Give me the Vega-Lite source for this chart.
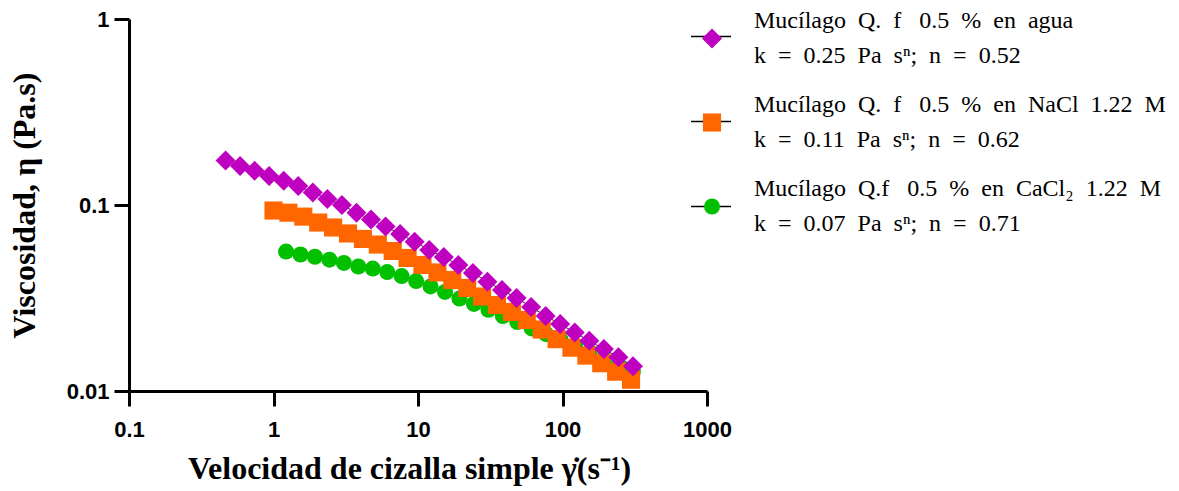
{
  "$schema": "https://vega.github.io/schema/vega-lite/v6.json",
  "autosize": {"type": "none"},
  "padding": {"left": 129, "top": 19, "right": 472, "bottom": 100},
  "width": 578,
  "height": 372,
  "background": "white",
  "config": {
    "view": {"stroke": null},
    "axis": {
      "grid": false,
      "domainColor": "black",
      "domainWidth": 3,
      "tickColor": "black",
      "tickWidth": 3,
      "tickSize": 15,
      "labelFont": "Liberation Sans",
      "labelFontWeight": "bold",
      "labelFontSize": 22,
      "labelColor": "black",
      "titleFont": "Liberation Serif",
      "titleFontWeight": "bold",
      "titleFontSize": 32,
      "titleColor": "black"
    }
  },
  "data": {
    "values": [
      {"series": "c", "x": 1.222, "y": 0.0562}, {"series": "c", "x": 1.538, "y": 0.0542}, {"series": "c", "x": 1.936, "y": 0.0527}, {"series": "c", "x": 2.438, "y": 0.0508}, {"series": "c", "x": 3.069, "y": 0.0488},
      {"series": "c", "x": 3.864, "y": 0.0467}, {"series": "c", "x": 4.864, "y": 0.0455}, {"series": "c", "x": 6.124, "y": 0.0436}, {"series": "c", "x": 7.709, "y": 0.0415}, {"series": "c", "x": 9.705, "y": 0.0390},
      {"series": "c", "x": 12.22, "y": 0.0365}, {"series": "c", "x": 15.38, "y": 0.0341}, {"series": "c", "x": 19.36, "y": 0.0314}, {"series": "c", "x": 24.38, "y": 0.0294}, {"series": "c", "x": 30.69, "y": 0.0273},
      {"series": "c", "x": 38.64, "y": 0.0253}, {"series": "c", "x": 48.64, "y": 0.0235}, {"series": "c", "x": 61.24, "y": 0.0217}, {"series": "c", "x": 77.09, "y": 0.0202}, {"series": "c", "x": 97.05, "y": 0.0188},
      {"series": "c", "x": 122.2, "y": 0.0175}, {"series": "c", "x": 153.8, "y": 0.0162}, {"series": "c", "x": 193.6, "y": 0.0149}, {"series": "c", "x": 243.8, "y": 0.0137}, {"series": "c", "x": 306.9, "y": 0.0127},
      {"series": "b", "x": 1.000, "y": 0.0934}, {"series": "b", "x": 1.268, "y": 0.0909}, {"series": "b", "x": 1.608, "y": 0.0866}, {"series": "b", "x": 2.039, "y": 0.0805}, {"series": "b", "x": 2.585, "y": 0.0757},
      {"series": "b", "x": 3.278, "y": 0.0703}, {"series": "b", "x": 4.156, "y": 0.0657}, {"series": "b", "x": 5.270, "y": 0.0613}, {"series": "b", "x": 6.682, "y": 0.0566}, {"series": "b", "x": 8.473, "y": 0.0519},
      {"series": "b", "x": 10.74, "y": 0.0476}, {"series": "b", "x": 13.62, "y": 0.0434}, {"series": "b", "x": 17.27, "y": 0.0395}, {"series": "b", "x": 21.90, "y": 0.0358}, {"series": "b", "x": 27.77, "y": 0.0322},
      {"series": "b", "x": 35.21, "y": 0.0290}, {"series": "b", "x": 44.64, "y": 0.0266}, {"series": "b", "x": 56.60, "y": 0.0241}, {"series": "b", "x": 71.77, "y": 0.0214}, {"series": "b", "x": 91.0, "y": 0.0190},
      {"series": "b", "x": 115.3, "y": 0.0171}, {"series": "b", "x": 146.3, "y": 0.0155}, {"series": "b", "x": 185.4, "y": 0.0141}, {"series": "b", "x": 235.1, "y": 0.0127}, {"series": "b", "x": 298.1, "y": 0.0115},
      {"series": "a", "x": 0.466, "y": 0.1734}, {"series": "a", "x": 0.587, "y": 0.1621}, {"series": "a", "x": 0.740, "y": 0.1529}, {"series": "a", "x": 0.933, "y": 0.1432}, {"series": "a", "x": 1.177, "y": 0.1351},
      {"series": "a", "x": 1.484, "y": 0.1265}, {"series": "a", "x": 1.871, "y": 0.1167}, {"series": "a", "x": 2.360, "y": 0.1077}, {"series": "a", "x": 2.976, "y": 0.1000}, {"series": "a", "x": 3.752, "y": 0.0909},
      {"series": "a", "x": 4.731, "y": 0.0836}, {"series": "a", "x": 5.966, "y": 0.0766}, {"series": "a", "x": 7.52, "y": 0.0698}, {"series": "a", "x": 9.48, "y": 0.0635}, {"series": "a", "x": 11.96, "y": 0.0573},
      {"series": "a", "x": 15.09, "y": 0.0525}, {"series": "a", "x": 19.02, "y": 0.0476}, {"series": "a", "x": 23.99, "y": 0.0431}, {"series": "a", "x": 30.25, "y": 0.0387}, {"series": "a", "x": 38.14, "y": 0.0349},
      {"series": "a", "x": 48.09, "y": 0.0316}, {"series": "a", "x": 60.64, "y": 0.0283}, {"series": "a", "x": 76.47, "y": 0.0253}, {"series": "a", "x": 96.4, "y": 0.0229}, {"series": "a", "x": 121.6, "y": 0.0206},
      {"series": "a", "x": 153.3, "y": 0.0186}, {"series": "a", "x": 193.3, "y": 0.0168}, {"series": "a", "x": 243.8, "y": 0.0152}, {"series": "a", "x": 307.4, "y": 0.0136}
    ]
  },
  "encoding": {
    "x": {
      "field": "x", "type": "quantitative",
      "scale": {"type": "log", "domain": [0.1, 1000], "nice": false},
      "axis": {"values": [0.1, 1, 10, 100, 1000], "format": "~g", "labelPadding": 13, "title": "Velocidad de cizalla simple γ̇(s⁻¹)", "titlePadding": 13, "titleX": 280, "labelFlush": false}
    },
    "y": {
      "field": "y", "type": "quantitative",
      "scale": {"type": "log", "domain": [0.01, 1], "nice": false},
      "axis": {"values": [0.01, 0.1, 1], "format": "~g", "labelPadding": 5, "title": "Viscosidad, η (Pa.s)", "titlePadding": 25, "labelFlush": false}
    }
  },
  "layer": [
    {
      "mark": {"type": "line", "color": "black", "strokeWidth": 1},
      "encoding": {
        "strokeDash": {
          "field": "series", "type": "nominal",
          "scale": {"range": [[1, 0], [1, 0], [1, 0]]},
          "legend": {
            "orient": "none", "legendX": 561, "legendY": -3.5, "title": null, "padding": 0, "zindex": 0,
            "symbolType": "stroke", "symbolSize": 1600, "symbolStrokeWidth": 1.5, "symbolStrokeColor": "black", "symbolDash": [1, 0],
            "labelFont": "Liberation Serif", "labelFontSize": 24, "labelLimit": 600, "labelOpacity": 0, "labelOffset": 20, "rowPadding": 25,
            "labelExpr": "[' ', ' ']",
            "encode": {"labels": {"update": {"lineHeight": {"value": 35}, "dy": {"value": -17.5}}}}
          }
        }
      }
    },
    {
      "mark": {"type": "point", "filled": true, "opacity": 1, "strokeWidth": 0},
      "encoding": {
        "color": {
          "field": "series", "type": "nominal",
          "scale": {"domain": ["a", "b", "c"], "range": ["#C000C0", "#FF6600", "#00C000"]},
          "legend": {
            "orient": "none", "legendX": 571, "legendY": 7.5, "title": null, "padding": 0, "zindex": 1,
            "symbolSize": 360, "symbolStrokeWidth": 0, "symbolOpacity": 1,
            "labelFont": "Liberation Serif", "labelFontSize": 24, "labelColor": "black", "labelLimit": 600, "labelOffset": 30, "rowPadding": 24,
            "labelExpr": "datum.value === 'a' ? ['Mucílago\u00a0 Q.\u00a0 f\u00a0 \u00a00.5\u00a0 %\u00a0 en\u00a0 agua', 'k\u00a0 =\u00a0 0.25\u00a0 Pa\u00a0 sⁿ;\u00a0 n\u00a0 =\u00a0 0.52'] : datum.value === 'b' ? ['Mucílago\u00a0 Q.\u00a0 f\u00a0 \u00a00.5\u00a0 %\u00a0 en\u00a0 NaCl\u00a0 1.22\u00a0 M', 'k\u00a0 =\u00a0 0.11\u00a0 Pa\u00a0 sⁿ;\u00a0 n\u00a0 =\u00a0 0.62'] : ['Mucílago\u00a0 Q.f\u00a0 \u00a00.5\u00a0 %\u00a0 en\u00a0 CaCl₂\u00a0 1.22\u00a0 M', 'k\u00a0 =\u00a0 0.07\u00a0 Pa\u00a0 sⁿ;\u00a0 n\u00a0 =\u00a0 0.71']",
            "encode": {
              "labels": {"update": {"lineHeight": {"value": 35}, "dy": {"value": -17.5}}},
              "symbols": {"update": {"size": {"signal": "datum.value === 'b' ? 225 : 360"}}}
            }
          }
        },
        "shape": {
          "field": "series", "type": "nominal",
          "scale": {"domain": ["a", "b", "c"], "range": ["diamond", "square", "circle"]}
        },
        "size": {
          "field": "series", "type": "nominal",
          "scale": {"domain": ["a", "b", "c"], "range": [400, 256, 300]},
          "legend": null
        }
      }
    }
  ]
}
